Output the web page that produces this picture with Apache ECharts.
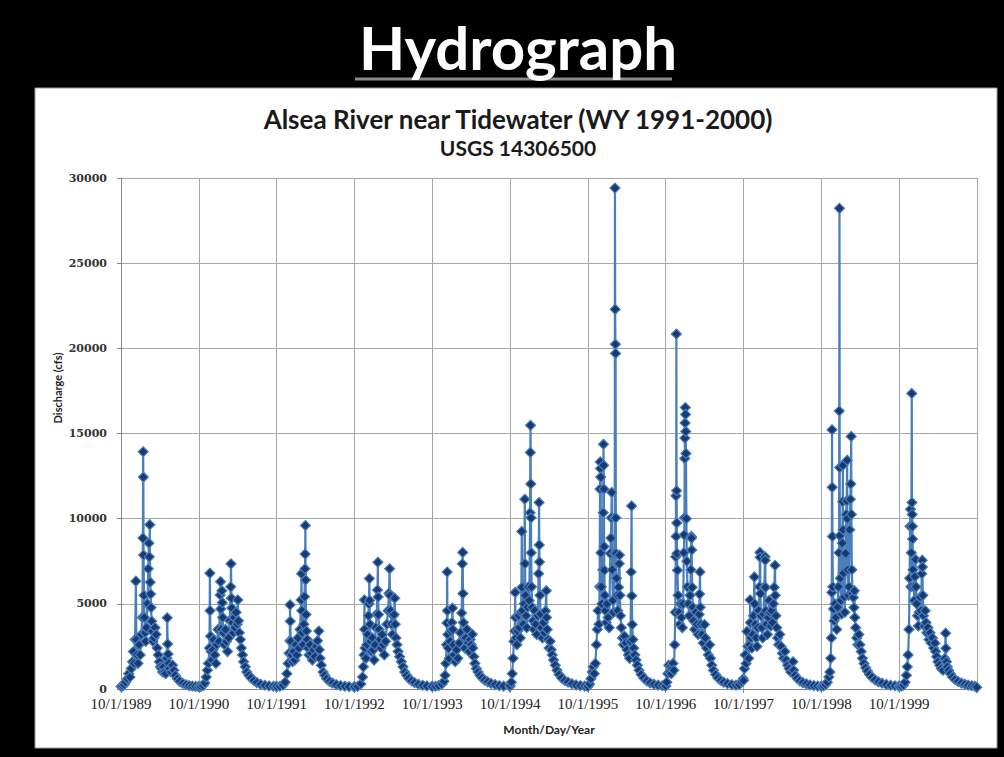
<!DOCTYPE html>
<html>
<head>
<meta charset="utf-8">
<title>Hydrograph</title>
<script src="https://cdn.jsdelivr.net/npm/echarts@6/dist/echarts.min.js"></script>
<style>
  html, body { margin: 0; padding: 0; background: #000; }
  #chart { width: 1004px; height: 757px; }
</style>
</head>
<body>
<div id="chart"></div>
<script>
// daily discharge (cfs), as [day since Oct 1, cfs] per water year
var wy1990 = [[0,150],[8,180],[15,250],[22,400],[30,600],[36,900],[42,700],[48,1200],[54,1600],[58,2200],[62,1500],[66,2900],[70,6330],[72,2900],[75,2000],[80,1500],[85,2600],[90,2000],[95,3200],[100,4200],[103,8860],[104,13930],[105,12440],[106,7860],[108,5500],[110,4200],[113,3300],[116,2800],[120,3600],[124,5000],[128,7060],[131,8560],[133,7760],[135,9650],[137,6270],[139,5570],[141,4780],[144,3980],[147,3380],[150,2800],[155,3000],[160,3600],[165,3200],[170,2400],[175,2000],[180,1600],[185,1300],[190,1200],[195,1000],[200,1300],[205,1000],[210,900],[215,1800],[217,4180],[219,2640],[221,2050],[224,1500],[228,1200],[235,1000],[242,1400],[248,1100],[255,800],[265,600],[275,450],[290,330],[305,250],[320,200],[335,170],[350,150],[364,140]];
var wy1991 = [[0,140],[10,150],[20,200],[28,350],[35,700],[40,1100],[45,1500],[50,2400],[52,6800],[53,4600],[55,3100],[58,2200],[62,1700],[66,2300],[70,2900],[75,2000],[80,1500],[85,2600],[90,3500],[95,2800],[100,5520],[102,6300],[103,4700],[105,3500],[108,5770],[110,5070],[112,4200],[115,3300],[120,2600],[125,3500],[130,2800],[135,2200],[140,3000],[145,4000],[150,6000],[151,7350],[153,5330],[155,4750],[158,3900],[162,3300],[166,4200],[170,3600],[175,4500],[180,3800],[183,5230],[186,4000],[190,3300],[195,2900],[200,2400],[205,2000],[210,1600],[218,1300],[225,1000],[235,800],[245,650],[258,500],[272,380],[290,280],[310,220],[330,180],[350,160],[364,150]];
var wy1992 = [[0,150],[15,160],[30,220],[40,400],[48,900],[54,1500],[58,2100],[62,2830],[63,4940],[64,3980],[66,2800],[70,2000],[75,1600],[80,2200],[85,1700],[90,2600],[95,2000],[100,3000],[105,2400],[110,3500],[115,5230],[117,6770],[118,4600],[120,3300],[124,2600],[128,3800],[131,5420],[133,7060],[134,7920],[135,9600],[136,6400],[138,4370],[140,3400],[144,2900],[148,2400],[152,2000],[157,2600],[162,2100],[168,1700],[174,2300],[180,1900],[186,2500],[192,2830],[198,3400],[200,2300],[204,1800],[210,1400],[218,1000],[226,800],[235,600],[248,450],[262,350],[280,260],[300,200],[320,160],[340,140],[364,130]];
var wy1993 = [[0,130],[15,150],[30,300],[38,700],[42,1300],[45,2000],[47,5230],[48,3500],[50,2400],[54,1800],[58,2600],[62,3200],[66,4300],[68,5000],[70,6480],[71,5200],[73,3800],[76,2800],[80,2200],[84,3000],[88,2300],[92,1700],[96,2600],[100,3600],[105,4400],[108,5810],[110,7440],[111,5400],[113,4370],[116,3500],[120,2900],[125,2400],[130,3200],[135,2600],[140,2000],[146,2800],[152,3800],[158,4600],[162,5620],[165,7060],[167,5500],[170,4600],[174,3800],[178,3200],[182,4300],[186,4370],[189,5330],[191,3800],[195,3000],[200,2600],[205,2200],[212,1900],[220,1600],[228,1300],[236,1000],[245,800],[255,620],[268,480],[282,370],[300,280],[320,220],[340,180],[364,160]];
var wy1994 = [[0,150],[15,160],[30,200],[45,280],[55,450],[60,800],[64,1500],[67,2600],[69,3880],[70,6870],[71,4600],[73,3200],[76,2400],[80,1800],[84,2800],[88,3400],[92,3900],[95,4750],[96,3500],[99,2600],[103,2000],[108,1600],[114,2300],[120,1800],[126,2700],[132,3300],[138,4460],[141,7350],[143,8020],[144,5600],[146,3900],[149,3000],[153,2400],[158,3000],[163,3500],[168,2700],[173,2200],[178,2900],[183,2600],[188,3210],[190,2400],[195,1900],[200,1500],[207,1200],[215,1000],[224,800],[234,650],[246,520],[260,420],[276,330],[295,260],[315,200],[335,170],[364,150]];
var wy1995 = [[0,200],[6,400],[10,900],[14,1800],[18,2800],[22,3400],[24,5670],[25,4200],[28,3000],[32,2600],[36,3400],[40,4300],[44,3600],[48,3000],[52,4500],[55,9250],[56,5970],[58,4600],[62,3800],[66,5000],[69,11140],[70,7360],[72,5500],[75,4300],[78,3600],[82,4800],[86,6000],[90,5200],[94,10350],[95,13890],[96,15480],[97,12040],[98,10050],[99,8000],[101,6000],[104,4800],[108,4000],[112,3500],[116,4600],[120,3800],[125,3200],[130,4300],[134,6770],[136,10950],[137,8460],[138,7460],[140,5500],[143,4400],[147,3600],[152,3000],[157,3900],[162,3300],[166,4580],[170,5770],[171,4200],[174,3500],[178,2900],[183,2400],[188,2800],[193,2300],[198,2000],[204,1700],[212,1400],[220,1100],[230,850],[242,650],[256,500],[272,400],[290,310],[310,240],[330,200],[350,170],[364,160]];
var wy1996 = [[0,150],[8,300],[14,600],[20,1000],[25,1300],[30,900],[35,1500],[40,2600],[44,3500],[48,4600],[52,3800],[55,6000],[57,11740],[58,13330],[59,12940],[60,12440],[61,8000],[63,6000],[66,5000],[70,7000],[72,10350],[73,14370],[74,13130],[75,11740],[76,8360],[77,6970],[79,5500],[82,4600],[86,3900],[90,5000],[95,4200],[100,3600],[105,7960],[108,8860],[110,10050],[112,11540],[114,7000],[117,5200],[120,4500],[124,7960],[126,10050],[127,29410],[128,22290],[129,20240],[130,19700],[131,10050],[132,7960],[134,6500],[137,5500],[140,4600],[144,5970],[147,7360],[148,7860],[150,5500],[153,4300],[157,3600],[162,3000],[167,2600],[172,3100],[178,2700],[184,2300],[190,2000],[196,1800],[200,2790],[203,6870],[205,10750],[206,5470],[208,3780],[211,2900],[215,2400],[220,2000],[226,1700],[232,1400],[240,1100],[250,850],[262,650],[276,480],[292,360],[310,280],[330,230],[350,200],[364,180]];
var wy1997 = [[0,180],[5,400],[10,900],[14,1400],[18,1000],[22,1300],[26,900],[30,1200],[34,1500],[38,1100],[42,2600],[45,4500],[47,7760],[48,11340],[49,8960],[50,20840],[51,11640],[52,9750],[53,7960],[55,6970],[58,5500],[62,4500],[66,3800],[70,5000],[74,4200],[78,3600],[82,5000],[85,8000],[87,9050],[88,10050],[89,13530],[90,14730],[91,15620],[92,16520],[93,16120],[94,15120],[95,13830],[97,10000],[99,7500],[102,6000],[106,5000],[110,4300],[114,5500],[118,7000],[120,8960],[121,8860],[122,8160],[124,5970],[127,4800],[131,4000],[136,3500],[141,4500],[146,3800],[152,3200],[157,4380],[159,5570],[161,6870],[162,4800],[165,3800],[170,3200],[176,2700],[182,3780],[186,3000],[192,2400],[200,2000],[206,2600],[210,1800],[216,1400],[224,1100],[234,850],[245,650],[258,500],[272,400],[290,320],[310,260],[330,230],[345,260],[356,420],[364,600]];
var wy1998 = [[0,500],[4,1200],[8,2000],[12,1500],[16,3380],[20,2500],[24,1800],[28,2600],[31,5230],[32,3900],[35,3000],[39,2400],[43,3200],[47,4300],[51,6580],[52,5000],[55,3800],[59,3000],[63,2500],[67,3600],[71,4600],[75,6000],[77,8020],[78,7730],[79,5600],[82,4300],[86,3600],[90,3000],[94,4400],[98,6000],[101,7760],[102,7560],[103,5970],[105,4600],[108,3800],[112,3200],[116,4200],[120,5200],[124,4500],[128,3700],[132,4600],[136,3900],[140,5000],[144,5970],[148,7260],[149,5500],[152,4300],[156,3600],[160,3000],[165,2600],[170,3200],[176,2500],[182,2100],[188,1800],[194,2200],[200,1700],[207,1400],[214,1200],[222,1000],[232,1600],[235,1100],[242,800],[252,620],[264,480],[278,380],[295,300],[312,240],[330,200],[348,170],[364,160]];
var wy1999 = [[0,160],[10,180],[20,250],[28,400],[35,700],[40,1000],[44,1800],[47,3000],[49,5670],[50,15220],[51,11840],[52,8960],[54,6000],[57,4700],[60,4000],[64,5000],[68,4200],[72,3500],[76,4800],[80,6000],[83,8000],[84,16320],[85,28220],[86,13000],[87,9000],[89,6500],[92,5200],[95,4400],[98,8560],[100,11000],[101,13130],[102,9350],[104,6800],[107,5400],[110,4500],[114,7960],[117,10250],[119,11040],[121,13430],[122,10000],[124,7000],[127,5500],[130,6000],[133,9350],[136,11140],[138,12040],[140,14830],[141,10250],[143,7000],[146,5600],[150,5370],[153,4780],[155,5770],[157,4200],[161,3600],[166,3000],[171,2600],[176,3200],[181,2600],[187,2200],[193,1800],[200,1500],[208,1250],[216,1050],[226,850],[238,680],[252,540],[268,420],[285,340],[305,270],[325,220],[345,190],[364,170]];
var wy2000 = [[0,160],[10,170],[20,220],[28,400],[34,800],[38,1300],[42,2000],[46,3500],[49,6500],[51,9550],[53,10550],[55,6000],[57,8000],[59,17350],[60,10950],[61,10250],[62,9550],[63,8800],[65,7000],[68,6000],[71,5200],[74,6600],[77,7600],[79,6000],[82,5000],[86,4300],[90,3700],[94,4500],[98,5400],[102,4600],[106,6770],[108,7560],[109,7160],[111,5500],[114,4300],[118,3700],[122,4600],[126,3900],[130,3300],[135,3600],[140,2900],[145,3300],[150,2700],[156,3000],[162,2400],[168,2690],[171,2200],[176,1900],[182,1600],[190,1400],[198,1200],[206,1100],[214,1790],[218,3280],[219,2390],[222,1600],[226,1300],[232,1100],[240,900],[250,700],[262,560],[276,440],[292,350],[308,280],[324,230],[340,190],[355,160],[364,100]];

var waterYears = [wy1990, wy1991, wy1992, wy1993, wy1994, wy1995, wy1996, wy1997, wy1998, wy1999, wy2000];
var xTickLabels = ['10/1/1989','10/1/1990','10/1/1991','10/1/1992','10/1/1993','10/1/1994','10/1/1995','10/1/1996','10/1/1997','10/1/1998','10/1/1999'];
var YEAR = 365.25;

// x = days since 10/1/1989
var flow = [];
waterYears.forEach(function (wy, i) {
    wy.forEach(function (p) { flow.push([i * YEAR + p[0], p[1]]); });
});

var chart = echarts.init(document.getElementById('chart'), null, {renderer: 'svg'});
var option = {
    backgroundColor: '#000',
    animation: false,
    title: [
        {
            text: 'Hydrograph',
            left: 513,
            textAlign: 'center',
            top: 12,
            textStyle: {color: '#fff', fontFamily: 'Lato', fontWeight: 'bold', fontSize: 60}
        },
        {
            text: 'Alsea River near Tidewater (WY 1991-2000)',
            subtext: 'USGS 14306500',
            left: 513,
            textAlign: 'center',
            top: 101,
            itemGap: 5,
            textStyle: {color: '#1a1a1a', fontFamily: 'Lato', fontWeight: 'bold', fontSize: 26},
            subtextStyle: {color: '#1a1a1a', fontFamily: 'Lato', fontWeight: 'bold', fontSize: 21}
        }
    ],
    graphic: [
        {type: 'rect', z: -10, shape: {x: 35, y: 88, width: 962, height: 660},
            style: {fill: '#fff', stroke: '#9a9a9a', lineWidth: 1}},
        {type: 'line', shape: {x1: 355, y1: 79, x2: 672, y2: 79},
            style: {stroke: '#8a8a8a', lineWidth: 3}},
        {type: 'text', x: 57, y: 388, rotation: Math.PI / 2,
            style: {text: 'Discharge (cfs)', fill: '#222', font: 'bold 11px Lato', align: 'center', verticalAlign: 'middle'}}
    ],
    grid: {left: 121, right: 27, top: 178, bottom: 68},
    xAxis: {
        type: 'value',
        min: 0,
        max: 11 * YEAR,
        interval: YEAR,
        name: 'Month/Day/Year',
        nameLocation: 'middle',
        nameGap: 34,
        nameTextStyle: {color: '#222', fontFamily: 'Lato', fontWeight: 'bold', fontSize: 12},
        axisLine: {lineStyle: {color: '#868686'}},
        axisTick: {show: true, length: 4, lineStyle: {color: '#868686'}},
        axisLabel: {
            color: '#222', fontFamily: 'Liberation Serif', fontSize: 15, margin: 7,
            formatter: function (v) { return xTickLabels[Math.round(v / YEAR)] || ''; }
        },
        splitLine: {show: true, lineStyle: {color: '#a6a6a6'}}
    },
    yAxis: {
        type: 'value',
        min: 0,
        max: 30000,
        interval: 5000,
        axisLine: {show: true, lineStyle: {color: '#868686'}},
        axisTick: {show: true, length: 4, lineStyle: {color: '#868686'}},
        axisLabel: {
            color: '#333', fontFamily: 'DejaVu Serif', fontWeight: 'bold', fontSize: 11, margin: 14,
            formatter: function (v) { return String(v); }
        },
        splitLine: {lineStyle: {color: '#a6a6a6'}}
    },
    series: [{
        type: 'line',
        data: flow,
        symbol: 'diamond',
        symbolSize: 10,
        showAllSymbol: true,
        lineStyle: {color: '#4a7ebb', width: 2.2},
        itemStyle: {color: '#183a72', borderColor: '#4a7ebb', borderWidth: 1.2}
    }]
};
chart.setOption(option);
</script>
</body>
</html>
